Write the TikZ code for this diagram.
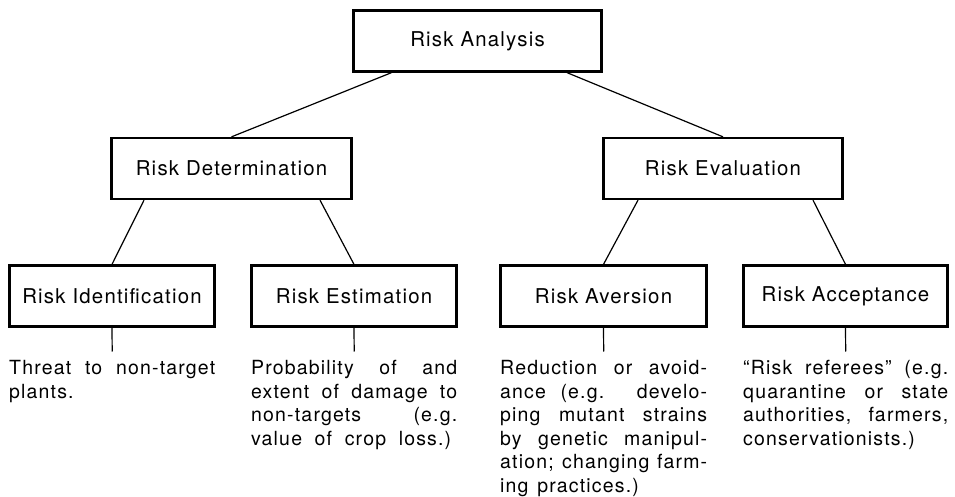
\documentclass[tikz,border=0pt]{standalone}
\usepackage{fontspec}
\newfontfamily\labfont{TeX Gyre Heros}[LetterSpace=6]
\newfontfamily\bodfont{TeX Gyre Heros}[LetterSpace=6]
\newcommand{\jl}[1]{\noindent\spaceskip=0pt\xspaceskip=0pt\makebox[\hsize][s]{#1}\par}
\newcommand{\jw}[2]{\noindent\spaceskip=0pt\xspaceskip=0pt\makebox[#1][s]{#2}\par}
\newcommand{\nl}[1]{\noindent\spaceskip=0.45em\relax #1\par}
\begin{document}
\begin{tikzpicture}[x=1pt,y=-1pt,
  box/.style={draw, line width=2.3pt, inner sep=0pt, font=\labfont\fontsize{20.4}{24}\selectfont, minimum height=61pt},
  conn/.style={line width=1.2pt},
  desc/.style={anchor=north west, inner sep=0pt, font=\bodfont\fontsize{19.5}{23.5}\selectfont}]
\useasboundingbox (0,0) rectangle (955,497);
% level 1
\node[box, minimum width=248pt] (ra) at (477.5,41) {Risk Analysis};
% level 2
\node[box, minimum width=240pt] (rd) at (231.5,168.5) {Risk Determination};
\node[box, minimum width=239pt] (re) at (723,168.5) {Risk Evaluation};
% level 3
\node[box, minimum width=205pt] (ri) at (112,296) {Risk Identification};
\node[box, minimum width=205pt] (rs) at (354,296) {Risk Estimation};
\node[box, minimum width=206pt] (rv) at (603.5,296) {Risk Aversion};
\node[box, minimum width=204pt] (rc) at (845.5,296) {Risk Acceptance};
% connectors
\draw[conn] ([xshift=-86pt]ra.south) -- (rd.north);
\draw[conn] ([xshift=89.5pt]ra.south) -- (re.north);
\draw[conn] ([xshift=-87.5pt]rd.south) -- (ri.north);
\draw[conn] ([xshift=88.5pt]rd.south) -- (rs.north);
\draw[conn] ([xshift=-85pt]re.south) -- (rv.north);
\draw[conn] ([xshift=90pt]re.south) -- (rc.north);
% descriptions
\node[desc, text width=206pt] (ti) at (9,360.5) {\jl{Threat to non-target}\nl{plants.}};
\node[desc, text width=206pt] (ts) at (251,360.5) {\jl{Probability of and}\jl{extent of damage to}\jl{non-targets (e.g.}\jw{200pt}{value of crop loss.)}};
\node[desc, text width=207pt] (tv) at (500,360.5) {\jl{Reduction or avoid-}\jl{ance (e.g. develo-}\jl{ping mutant strains}\jl{by genetic manipul-}\jl{ation; changing farm-}\nl{ing practices.)}};
\node[desc, text width=205pt] (tc) at (743,360.5) {\jl{“Risk referees” (e.g.}\jl{quarantine or state}\jl{authorities, farmers,}\nl{conservationists.)}};
% ticks
\draw[conn] (ri.south) -- ([yshift=9pt]ti.north);
\draw[conn] (rs.south) -- ([yshift=9pt]ts.north);
\draw[conn] (rv.south) -- ([yshift=9pt]tv.north);
\draw[conn] (rc.south) -- ([yshift=9pt]tc.north);
\end{tikzpicture}
\end{document}
